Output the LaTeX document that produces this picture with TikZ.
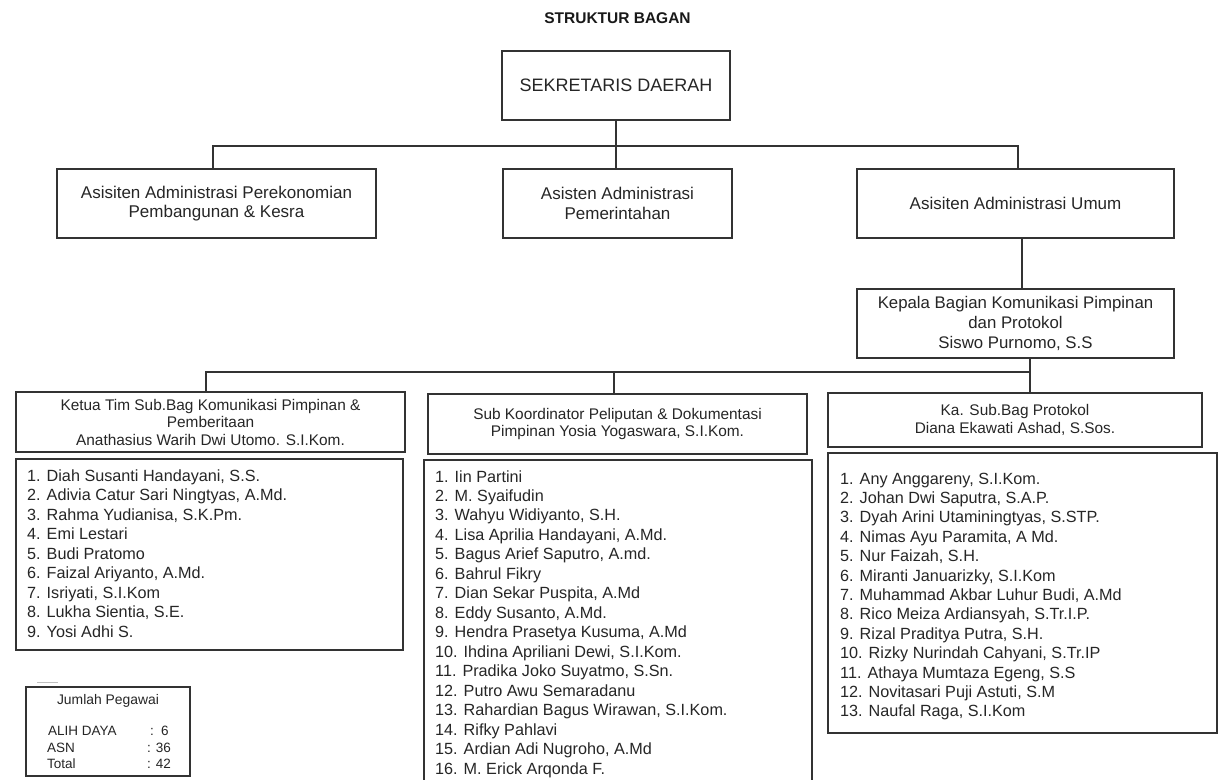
\documentclass[tikz,border=0pt]{standalone}
\usepackage{fontspec}
\setmainfont{Liberation Sans}
\begin{document}
\tikzset{
  ln/.style={line width=1.3pt, draw=black!80},
  box/.style={ln, rectangle, inner sep=0pt, align=center, text=black!85},
  lvltwo/.style={box, minimum height=69pt, font=\fontsize{17}{19.5}\selectfont},
  hdr/.style={box, font=\fontsize{15.4}{17.5}\selectfont},
  listtxt/.style={inner sep=0pt, anchor=base west, text=black!85, font=\fontsize{16.2}{19.5}\selectfont},
  smalltxt/.style={inner sep=0pt, anchor=base west, text=black!85, font=\fontsize{13.5}{16}\selectfont},
}
\begin{tikzpicture}[x=1pt,y=-1pt]
\useasboundingbox[fill=white] (0,0) rectangle (1223,779);

% title
\node[inner sep=0pt, text=black!90, font=\bfseries\fontsize{15.5}{18}\selectfont] (title) at (617.5,18) {STRUKTUR BAGAN};

% level 1
\node[box, minimum width=228pt, minimum height=69pt, font=\fontsize{18}{21}\selectfont] (sek) at (616,85.5) {SEKRETARIS DAERAH};

% level 2
\node[lvltwo, minimum width=319pt] (l2a) at (216.5,203.5) {Asisiten Administrasi Perekonomian\\Pembangunan \& Kesra};
\node[lvltwo, minimum width=229pt] (l2b) at (617.5,203.5) {Asisten Administrasi\\Pemerintahan};
\node[lvltwo, minimum width=317pt] (l2c) at (1015.5,203.5) {Asisiten Administrasi Umum};

% level 3
\node[box, minimum width=317pt, minimum height=69pt, font=\fontsize{16.8}{20}\selectfont] (kep) at (1015.5,323.5) {Kepala Bagian Komunikasi Pimpinan\\dan Protokol\\Siswo Purnomo, S.S};

% level 4 headers
\node[hdr, minimum width=389pt, minimum height=60pt] (h1) at (210.5,422) {Ketua Tim Sub.Bag Komunikasi Pimpinan \&\\Pemberitaan\\Anathasius Warih Dwi Utomo. S.I.Kom.};
\node[hdr, minimum width=379pt, minimum height=60pt] (h2) at (617.5,424) {Sub Koordinator Peliputan \& Dokumentasi\\Pimpinan Yosia Yogaswara, S.I.Kom.};
\node[hdr, minimum width=374pt, minimum height=54pt] (h3) at (1015,420) {Ka. Sub.Bag Protokol\\Diana Ekawati Ashad, S.Sos.};

% connectors
\coordinate (bus1) at (617,146);
\coordinate (bus2) at (1030,372);
\draw[ln] (sek.south) -- (sek.south |- l2b.north);
\draw[ln] ([xshift=-3.5pt]l2a.north) |- (bus1) -| ([xshift=2.5pt]l2c.north);
\draw[ln] ([xshift=6.5pt]l2c.south) -- ([xshift=6.5pt]l2c.south |- kep.north);
\draw[ln] ([xshift=14.5pt]kep.south) -- ([xshift=14.5pt]kep.south |- h3.north);
\draw[ln] ([xshift=-4.5pt]h1.north) |- (bus2);
\draw[ln] ([xshift=-3.5pt]h2.north) -- ([xshift=-3.5pt]h2.north |- bus2);

% list boxes
\node[box, minimum width=387pt, minimum height=191pt] (list1) at (209.5,554.5) {};
\node[box, minimum width=388pt, minimum height=330pt] (list2) at (618,625) {};
\node[box, minimum width=389pt, minimum height=280pt] (list3) at (1022.5,593) {};

\foreach \t [count=\i from 0] in {
  {1. Diah Susanti Handayani, S.S.},
  {2. Adivia Catur Sari Ningtyas, A.Md.},
  {3. Rahma Yudianisa, S.K.Pm.},
  {4. Emi Lestari},
  {5. Budi Pratomo},
  {6. Faizal Ariyanto, A.Md.},
  {7. Isriyati, S.I.Kom},
  {8. Lukha Sientia, S.E.},
  {9. Yosi Adhi S.}}
  \node[listtxt] (la\i) at (27,{481+19.5*\i}) {\t};

\foreach \t [count=\i from 0] in {
  {1. Iin Partini},
  {2. M. Syaifudin},
  {3. Wahyu Widiyanto, S.H.},
  {4. Lisa Aprilia Handayani, A.Md.},
  {5. Bagus Arief Saputro, A.md.},
  {6. Bahrul Fikry},
  {7. Dian Sekar Puspita, A.Md},
  {8. Eddy Susanto, A.Md.},
  {9. Hendra Prasetya Kusuma, A.Md},
  {10. Ihdina Apriliani Dewi, S.I.Kom.},
  {11. Pradika Joko Suyatmo, S.Sn.},
  {12. Putro Awu Semaradanu},
  {13. Rahardian Bagus Wirawan, S.I.Kom.},
  {14. Rifky Pahlavi},
  {15. Ardian Adi Nugroho, A.Md},
  {16. M. Erick Arqonda F.}}
  \node[listtxt] (lb\i) at (435,{482+19.47*\i}) {\t};

\foreach \t [count=\i from 0] in {
  {1. Any Anggareny, S.I.Kom.},
  {2. Johan Dwi Saputra, S.A.P.},
  {3. Dyah Arini Utaminingtyas, S.STP.},
  {4. Nimas Ayu Paramita, A Md.},
  {5. Nur Faizah, S.H.},
  {6. Miranti Januarizky, S.I.Kom},
  {7. Muhammad Akbar Luhur Budi, A.Md},
  {8. Rico Meiza Ardiansyah, S.Tr.I.P.},
  {9. Rizal Praditya Putra, S.H.},
  {10. Rizky Nurindah Cahyani, S.Tr.IP},
  {11. Athaya Mumtaza Egeng, S.S},
  {12. Novitasari Puji Astuti, S.M},
  {13. Naufal Raga, S.I.Kom}}
  \node[listtxt] (lc\i) at (840,{484+19.4*\i}) {\t};

% Jumlah Pegawai
\draw[black!25, line width=0.8pt] (37,682) -- (58,682);
\node[box, minimum width=164pt, minimum height=89pt] (jml) at (108,731.5) {};
\node[inner sep=0pt, text=black!85, font=\fontsize{13.9}{16}\selectfont] (jt) at (108,701) {Jumlah Pegawai};
\node[smalltxt] (r1a) at (48,735) {ALIH DAYA};
\node[smalltxt] (r1b) at (150,735) {:\, 6};
\node[smalltxt] (r2a) at (47,752) {ASN};
\node[smalltxt] (r2b) at (147,752) {: 36};
\node[smalltxt] (r3a) at (47,768) {Total};
\node[smalltxt] (r3b) at (147,768) {: 42};
\end{tikzpicture}
\end{document}
